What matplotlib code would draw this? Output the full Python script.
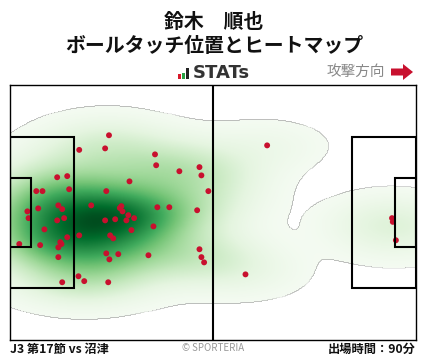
import matplotlib
matplotlib.use('Agg')
import matplotlib.pyplot as plt
from matplotlib.patches import Rectangle, Polygon
import numpy as np

plt.rcParams['font.family'] = ['Noto Sans CJK JP', 'DejaVu Sans']

W, H = 428, 359

# ball touch positions in pitch metres (x: 0-105 toward attack, y: 0-68 from top)
touch_x = [25.6, 17.9, 24.6, 37.5, 37.8, 43.8, 49.0, 49.5, 51.3, 12.2,
           14.8, 15.3, 6.8, 8.4, 30.9, 24.9, 7.3, 4.5, 4.8, 12.5,
           13.5, 12.2, 14.0, 21.0, 28.4, 28.8, 29.1, 30.6, 30.1, 32.1,
           27.2, 24.6, 38.1, 41.2, 48.4, 31.4, 37.1, 8.9, 17.9, 14.8,
           25.9, 26.7, 2.4, 7.8, 13.0, 13.3, 12.5, 12.5, 24.9, 25.7,
           28.0, 35.8, 49.0, 49.5, 50.2, 17.7, 19.2, 13.5, 25.4, 66.5,
           60.9, 98.8, 99.0, 99.8]
touch_y = [13.4, 17.3, 16.9, 18.5, 21.4, 23.0, 21.9, 24.1, 28.3, 24.6,
           24.3, 27.8, 28.3, 28.3, 25.7, 28.3, 32.9, 33.7, 35.5, 32.1,
           33.1, 36.1, 35.5, 32.1, 32.8, 32.3, 33.7, 34.7, 36.1, 35.5,
           35.8, 36.1, 32.6, 32.6, 33.4, 38.7, 37.7, 38.5, 40.1, 40.6,
           40.1, 40.9, 42.4, 42.7, 41.9, 42.4, 43.3, 45.9, 44.9, 46.5,
           45.1, 45.4, 43.8, 45.9, 47.3, 51.0, 52.3, 52.6, 52.6, 16.1,
           50.5, 35.5, 36.5, 41.4]

title_name = '鈴木　順也'
title_sub = 'ボールタッチ位置とヒートマップ'
match_label = 'J3 第17節 vs 沼津'
minutes_label = '出場時間：90分'


def fx(px):
    return px / W


def fy(py):
    return 1 - py / H


def kde_grid(x, y, gx, gy, bw_x, bw_y):
    XX, YY = np.meshgrid(gx, gy)
    dens = np.zeros_like(XX)
    for px, py in zip(x, y):
        dens += np.exp(-0.5 * (((XX - px) / bw_x) ** 2 + ((YY - py) / bw_y) ** 2))
    return dens


fig = plt.figure(figsize=(W / 100, H / 100), dpi=100)
ax = fig.add_axes([fx(10), fy(340), 406 / W, 255 / H])

# heatmap
gx = np.linspace(0, 105, 421)
gy = np.linspace(0, 68, 273)
dens = kde_grid(touch_x, touch_y, gx, gy, 11.0, 4.8)
thresh = 0.36
masked = np.ma.masked_less(dens, thresh)
ax.imshow(masked, extent=(0, 105, 68, 0), origin='upper', cmap='Greens',
          vmin=0, vmax=dens.max() * 1.03, interpolation='bilinear',
          aspect='auto', zorder=1)

ax.scatter(touch_x, touch_y, s=18, color='#c8102e', edgecolors='none', zorder=2)

# pitch lines
lc = 'black'
lw = 1.5
ax.plot([52.5, 52.5], [0, 68], color=lc, lw=lw, zorder=3)
for x0, w in [(0, 16.5), (105 - 16.5, 16.5)]:
    ax.add_patch(Rectangle((x0, 13.84), w, 40.32, fill=False, ec=lc, lw=lw, zorder=3))
for x0, w in [(0, 5.5), (105 - 5.5, 5.5)]:
    ax.add_patch(Rectangle((x0, 24.84), w, 18.32, fill=False, ec=lc, lw=lw, zorder=3))

ax.set_xlim(0, 105)
ax.set_ylim(68, 0)
ax.set_xticks([])
ax.set_yticks([])
for s in ax.spines.values():
    s.set_color('black')
    s.set_linewidth(1.0)

# titles
fig.text(0.5, fy(21), title_name, ha='center', va='center', fontsize=14.3,
         fontweight='bold', color='#111111')
fig.text(0.5, fy(46), title_sub, ha='center', va='center', fontsize=14.3,
         fontweight='bold', color='#111111')

# STATs logo
for x0, h, c in [(177.5, 5, '#d7182a'), (181.5, 6, '#2aa043'), (186, 11, '#222222')]:
    fig.add_artist(Rectangle((fx(x0), fy(79)), 3.2 / W, h / H, transform=fig.transFigure,
                             color=c, lw=0))
fig.text(fx(193), fy(73.5), 'STATs', ha='left', va='center', fontsize=13,
         fontweight='bold', color='#333333', family='DejaVu Sans')

# attack direction
fig.text(fx(385), fy(72), '攻撃方向', ha='right', va='center', fontsize=10.5,
         color='#888888')
arrow_px = [(391, 68.5), (403, 68.5), (403, 64), (413, 72), (403, 80), (403, 75.5), (391, 75.5)]
fig.add_artist(Polygon([(fx(px), fy(py)) for px, py in arrow_px], closed=True,
                       transform=fig.transFigure, color='#c8102e', lw=0))

# footer
fig.text(fx(10), fy(349), match_label, ha='left', va='center', fontsize=8.8,
         fontweight='bold', color='#111111')
fig.text(fx(213), fy(348), '© SPORTERIA', ha='center', va='center', fontsize=7,
         color='#999999')
fig.text(fx(416), fy(349), minutes_label, ha='right', va='center', fontsize=8.8,
         fontweight='bold', color='#111111')

fig.savefig('out.png', dpi=100, facecolor='white')
